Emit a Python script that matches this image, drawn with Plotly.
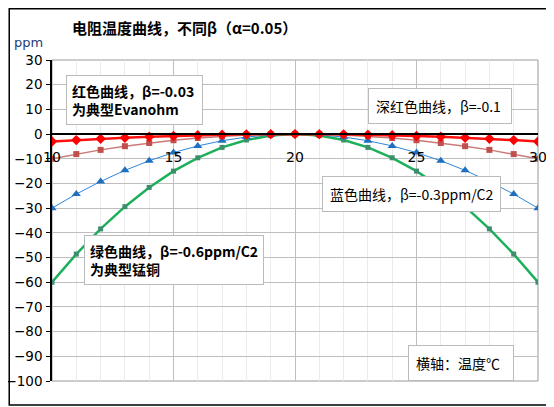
import plotly.graph_objects as go

temps = list(range(10, 31))
red_vals = [-3, -2.43, -1.92, -1.47, -1.08, -0.75, -0.48, -0.27, -0.12, -0.03, 0,
            -0.03, -0.12, -0.27, -0.48, -0.75, -1.08, -1.47, -1.92, -2.43, -3]
darkred_vals = [-10, -8.1, -6.4, -4.9, -3.6, -2.5, -1.6, -0.9, -0.4, -0.1, 0,
                -0.1, -0.4, -0.9, -1.6, -2.5, -3.6, -4.9, -6.4, -8.1, -10]
blue_vals = [-30, -24.3, -19.2, -14.7, -10.8, -7.5, -4.8, -2.7, -1.2, -0.3, 0,
             -0.3, -1.2, -2.7, -4.8, -7.5, -10.8, -14.7, -19.2, -24.3, -30]
green_vals = [-60, -48.6, -38.4, -29.4, -21.6, -15, -9.6, -5.4, -2.4, -0.6, 0,
              -0.6, -2.4, -5.4, -9.6, -15, -21.6, -29.4, -38.4, -48.6, -60]

FONT = "Noto Sans CJK SC"

fig = go.Figure()
fig.add_trace(go.Scatter(x=temps, y=green_vals, mode="lines+markers",
                         line={"color": "#1DB05A", "width": 2.5},
                         marker={"symbol": "square", "size": 5, "color": "#3E8E6E"}))
fig.add_trace(go.Scatter(x=temps, y=blue_vals, mode="lines+markers",
                         line={"color": "#2F86D6", "width": 1},
                         marker={"symbol": "triangle-up", "size": 8, "color": "#1F6FC0"}))
fig.add_trace(go.Scatter(x=temps, y=darkred_vals, mode="lines+markers",
                         line={"color": "#C97A78", "width": 1.5},
                         marker={"symbol": "square", "size": 6, "color": "#C0504D"}))
fig.add_trace(go.Scatter(x=temps, y=red_vals, mode="lines+markers",
                         line={"color": "#FF1010", "width": 2.5},
                         marker={"symbol": "diamond", "size": 8, "color": "#FF0000"}))

# page body keeps an 8px margin, so the figure is a bit smaller than the window
fig.update_layout(
    width=546, height=399,
    margin={"l": 44, "r": 16, "t": 52, "b": 26, "autoexpand": False},
    paper_bgcolor="white", plot_bgcolor="white",
    showlegend=False,
    font={"family": FONT, "size": 14, "color": "black"},
)
fig.update_xaxes(
    range=[10, 30], dtick=5, anchor="free", position=100 / 130,
    showline=True, linecolor="black", linewidth=1.5,
    showgrid=True, gridcolor="#BEBEBE", gridwidth=1,
    minor={"dtick": 1, "showgrid": True, "gridcolor": "#EBEBEB"},
    ticks="", tickfont={"size": 14, "family": "DejaVu Sans"}, ticklabelstandoff=10,
    zeroline=False, automargin=False,
)
fig.update_yaxes(
    range=[-100, 30], dtick=10,
    showline=True, linecolor="black", linewidth=1.5,
    ticks="outside", ticklen=4, tickcolor="black",
    showgrid=True, gridcolor="#BEBEBE", gridwidth=1,
    tickfont={"size": 13.5, "family": "DejaVu Sans"}, ticklabelstandoff=1,
    zeroline=False, automargin=False,
)

# plot frame and outer border
fig.add_shape(type="rect", xref="x domain", yref="y domain", x0=0, x1=1, y0=0, y1=1,
              line={"color": "#999999", "width": 1}, layer="below")
fig.add_shape(type="rect", xref="paper", yref="paper", x0=-0.088, x1=1.031, y0=-0.075, y1=1.16,
              line={"color": "black", "width": 1.5})

fig.add_annotation(text="<b>电阻温度曲线，不同β（α=0.05）</b>", xref="paper", yref="paper",
                   x=0.037, y=1.10, xanchor="left", yanchor="middle", showarrow=False,
                   font={"size": 15})
fig.add_annotation(text="ppm", xref="paper", yref="paper", x=-0.049, y=1.056,
                   xanchor="center", yanchor="middle", showarrow=False,
                   font={"size": 13, "color": "#1F3A7A", "family": "DejaVu Sans"})

box = {"showarrow": False, "bgcolor": "white", "bordercolor": "#BBBBBB", "borderwidth": 1,
       "xref": "x", "yref": "y", "align": "left", "xanchor": "left", "yanchor": "middle"}
fig.add_annotation(text="<b>红色曲线，β=-0.03 <br>为典型Evanohm</b>", x=10.58, y=13.8,
                   borderpad=5, **box)
fig.add_annotation(text="深红色曲线，β=-0.1 ", x=23.0, y=11.2, borderpad=7, **box)
fig.add_annotation(text="蓝色曲线，β=-0.3ppm/C2", x=21.1, y=-24.3, borderpad=7, **box)
fig.add_annotation(text="<b>绿色曲线，β=-0.6ppm/C2<br>为典型锰铜</b>", x=11.3, y=-51,
                   borderpad=5, **box)
fig.add_annotation(text="横轴：温度℃  ", x=24.65, y=-92.9, borderpad=7, **box)

fig.write_html("out.html")
